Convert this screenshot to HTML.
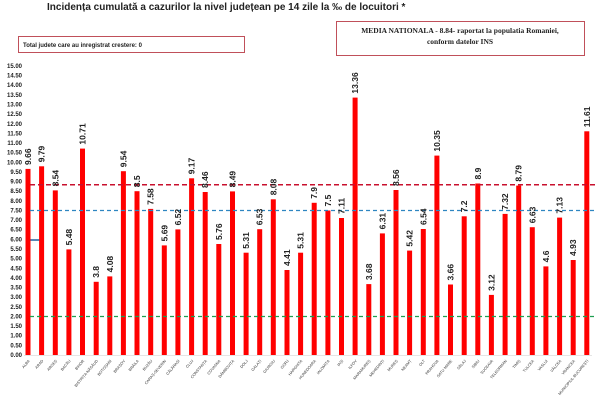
<!DOCTYPE html>
<html><head><meta charset="utf-8"><style>
html,body{margin:0;padding:0;background:#fff;width:600px;height:400px;overflow:hidden}
svg{display:block}
.yt{font:bold 6px "Liberation Sans",sans-serif;fill:#222}
.v{font:bold 8.5px "Liberation Sans",sans-serif;fill:#222}
.c{font:3.8px "Liberation Sans",sans-serif;fill:#333}
</style></head><body>
<svg width="600" height="400" viewBox="0 0 600 400" xmlns="http://www.w3.org/2000/svg">
<text x="47" y="10" style="font:bold 10px 'Liberation Sans',sans-serif;fill:#222">Incidența cumulată a cazurilor la nivel județean pe 14 zile la ‰ de locuitori *</text>
<rect x="18.5" y="36.5" width="226" height="16" fill="#fff" stroke="#c0505a" stroke-width="1"/>
<text x="23" y="47" style="font:bold 6px 'Liberation Sans',sans-serif;fill:#222">Total judete care au inregistrat crestere: 0</text>
<rect x="336.5" y="21.5" width="248" height="34" fill="#fff" stroke="#c0505a" stroke-width="1"/>
<text x="460" y="33" text-anchor="middle" style="font:bold 7.5px 'Liberation Serif',serif;fill:#222">MEDIA NATIONALA - 8.84-  raportat la populatia  Romaniei,</text>
<text x="460" y="44" text-anchor="middle" style="font:bold 7.5px 'Liberation Serif',serif;fill:#222">conform datelor INS</text>
<g class="yt" text-anchor="end">
<text x="22" y="357">0.00</text><text x="22" y="347.4">0.50</text><text x="22" y="337.7">1.00</text><text x="22" y="328.1">1.50</text><text x="22" y="318.5">2.00</text><text x="22" y="308.8">2.50</text><text x="22" y="299.2">3.00</text><text x="22" y="289.6">3.50</text><text x="22" y="279.9">4.00</text><text x="22" y="270.3">4.50</text><text x="22" y="260.7">5.00</text><text x="22" y="251">5.50</text><text x="22" y="241.4">6.00</text><text x="22" y="231.7">6.50</text><text x="22" y="222.1">7.00</text><text x="22" y="212.5">7.50</text><text x="22" y="202.8">8.00</text><text x="22" y="193.2">8.50</text><text x="22" y="183.6">9.00</text><text x="22" y="173.9">9.50</text><text x="22" y="164.3">10.00</text><text x="22" y="154.7">10.50</text><text x="22" y="145">11.00</text><text x="22" y="135.4">11.50</text><text x="22" y="125.8">12.00</text><text x="22" y="116.1">12.50</text><text x="22" y="106.5">13.00</text><text x="22" y="96.9">13.50</text><text x="22" y="87.2">14.00</text><text x="22" y="77.6">14.50</text><text x="22" y="68">15.00</text>
</g>
<line x1="30" y1="240" x2="42" y2="240" stroke="#1f5f9f" stroke-width="1.5"/>
<g fill="#f00">
<rect x="25.5" y="168.9" width="5" height="186.1"/><rect x="39.1" y="166.3" width="5" height="188.7"/><rect x="52.8" y="190.4" width="5" height="164.6"/><rect x="66.4" y="249.4" width="5" height="105.6"/><rect x="80" y="148.6" width="5" height="206.4"/><rect x="93.7" y="281.8" width="5" height="73.2"/><rect x="107.3" y="276.4" width="5" height="78.6"/><rect x="120.9" y="171.2" width="5" height="183.8"/><rect x="134.5" y="191.2" width="5" height="163.8"/><rect x="148.2" y="208.9" width="5" height="146.1"/><rect x="161.8" y="245.4" width="5" height="109.6"/><rect x="175.4" y="229.4" width="5" height="125.6"/><rect x="189.1" y="178.3" width="5" height="176.7"/><rect x="202.7" y="192" width="5" height="163"/><rect x="216.3" y="244" width="5" height="111"/><rect x="230" y="191.4" width="5" height="163.6"/><rect x="243.6" y="252.7" width="5" height="102.3"/><rect x="257.2" y="229.2" width="5" height="125.8"/><rect x="270.8" y="199.3" width="5" height="155.7"/><rect x="284.5" y="270" width="5" height="85"/><rect x="298.1" y="252.7" width="5" height="102.3"/><rect x="311.7" y="202.8" width="5" height="152.2"/><rect x="325.4" y="210.5" width="5" height="144.5"/><rect x="339" y="218" width="5" height="137"/><rect x="352.6" y="97.6" width="5" height="257.4"/><rect x="366.3" y="284.1" width="5" height="70.9"/><rect x="379.9" y="233.4" width="5" height="121.6"/><rect x="393.5" y="190" width="5" height="165"/><rect x="407.1" y="250.6" width="5" height="104.4"/><rect x="420.8" y="229" width="5" height="126"/><rect x="434.4" y="155.6" width="5" height="199.4"/><rect x="448" y="284.5" width="5" height="70.5"/><rect x="461.7" y="216.3" width="5" height="138.7"/><rect x="475.3" y="183.5" width="5" height="171.5"/><rect x="488.9" y="294.9" width="5" height="60.1"/><rect x="502.6" y="213.9" width="5" height="141.1"/><rect x="516.2" y="185.6" width="5" height="169.4"/><rect x="529.8" y="227.2" width="5" height="127.8"/><rect x="543.4" y="266.4" width="5" height="88.6"/><rect x="557.1" y="217.6" width="5" height="137.4"/><rect x="570.7" y="260" width="5" height="95"/><rect x="584.3" y="131.3" width="5" height="223.7"/>
</g>
<line x1="24" y1="355.5" x2="592" y2="355.5" stroke="#ddd" stroke-width="0.7"/>
<line x1="30" y1="184.7" x2="596" y2="184.7" stroke="#c8102e" stroke-width="1.5" stroke-dasharray="5,3"/>
<line x1="30" y1="210.5" x2="596" y2="210.5" stroke="#2e86c1" stroke-width="1.2" stroke-dasharray="4,3"/>
<line x1="30" y1="316.5" x2="596" y2="316.5" stroke="#1e9e50" stroke-width="1.2" stroke-dasharray="4,3"/>
<g class="v">
<text transform="translate(31,165) rotate(-90)">9.66</text><text transform="translate(44.6,162.3) rotate(-90)">9.79</text><text transform="translate(58.3,186.4) rotate(-90)">8.54</text><text transform="translate(71.9,245.4) rotate(-90)">5.48</text><text transform="translate(85.5,144.6) rotate(-90)">10.71</text><text transform="translate(99.2,277.8) rotate(-90)">3.8</text><text transform="translate(112.8,272.4) rotate(-90)">4.08</text><text transform="translate(126.4,167.2) rotate(-90)">9.54</text><text transform="translate(140,187.2) rotate(-90)">8.5</text><text transform="translate(153.7,204.9) rotate(-90)">7.58</text><text transform="translate(167.3,241.4) rotate(-90)">5.69</text><text transform="translate(180.9,225.4) rotate(-90)">6.52</text><text transform="translate(194.6,174.3) rotate(-90)">9.17</text><text transform="translate(208.2,188) rotate(-90)">8.46</text><text transform="translate(221.8,240) rotate(-90)">5.76</text><text transform="translate(235.5,187.4) rotate(-90)">8.49</text><text transform="translate(249.1,248.7) rotate(-90)">5.31</text><text transform="translate(262.7,225.2) rotate(-90)">6.53</text><text transform="translate(276.3,195.3) rotate(-90)">8.08</text><text transform="translate(290,266) rotate(-90)">4.41</text><text transform="translate(303.6,248.7) rotate(-90)">5.31</text><text transform="translate(317.2,198.8) rotate(-90)">7.9</text><text transform="translate(330.9,206.5) rotate(-90)">7.5</text><text transform="translate(344.5,214) rotate(-90)">7.11</text><text transform="translate(358.1,93.6) rotate(-90)">13.36</text><text transform="translate(371.8,280.1) rotate(-90)">3.68</text><text transform="translate(385.4,229.4) rotate(-90)">6.31</text><text transform="translate(399,186) rotate(-90)">8.56</text><text transform="translate(412.6,246.6) rotate(-90)">5.42</text><text transform="translate(426.3,225) rotate(-90)">6.54</text><text transform="translate(439.9,151.6) rotate(-90)">10.35</text><text transform="translate(453.5,280.5) rotate(-90)">3.66</text><text transform="translate(467.2,212.3) rotate(-90)">7.2</text><text transform="translate(480.8,179.5) rotate(-90)">8.9</text><text transform="translate(494.4,290.9) rotate(-90)">3.12</text><text transform="translate(508.1,209.9) rotate(-90)">7.32</text><text transform="translate(521.7,181.6) rotate(-90)">8.79</text><text transform="translate(535.3,223.2) rotate(-90)">6.63</text><text transform="translate(548.9,262.4) rotate(-90)">4.6</text><text transform="translate(562.6,213.6) rotate(-90)">7.13</text><text transform="translate(576.2,256) rotate(-90)">4.93</text><text transform="translate(589.8,127.3) rotate(-90)">11.61</text>
</g>
<g class="c" text-anchor="end">
<text transform="translate(30,361) rotate(-50)">ALBA</text><text transform="translate(43.6,361) rotate(-50)">ARAD</text><text transform="translate(57.3,361) rotate(-50)">ARGEȘ</text><text transform="translate(70.9,361) rotate(-50)">BACĂU</text><text transform="translate(84.5,361) rotate(-50)">BIHOR</text><text transform="translate(98.2,361) rotate(-50)">BISTRIȚA-NĂSĂUD</text><text transform="translate(111.8,361) rotate(-50)">BOTOȘANI</text><text transform="translate(125.4,361) rotate(-50)">BRAȘOV</text><text transform="translate(139,361) rotate(-50)">BRĂILA</text><text transform="translate(152.7,361) rotate(-50)">BUZĂU</text><text transform="translate(166.3,361) rotate(-50)">CARAȘ-SEVERIN</text><text transform="translate(179.9,361) rotate(-50)">CĂLĂRAȘI</text><text transform="translate(193.6,361) rotate(-50)">CLUJ</text><text transform="translate(207.2,361) rotate(-50)">CONSTANȚA</text><text transform="translate(220.8,361) rotate(-50)">COVASNA</text><text transform="translate(234.5,361) rotate(-50)">DÂMBOVIȚA</text><text transform="translate(248.1,361) rotate(-50)">DOLJ</text><text transform="translate(261.7,361) rotate(-50)">GALAȚI</text><text transform="translate(275.3,361) rotate(-50)">GIURGIU</text><text transform="translate(289,361) rotate(-50)">GORJ</text><text transform="translate(302.6,361) rotate(-50)">HARGHITA</text><text transform="translate(316.2,361) rotate(-50)">HUNEDOARA</text><text transform="translate(329.9,361) rotate(-50)">IALOMIȚA</text><text transform="translate(343.5,361) rotate(-50)">IAȘI</text><text transform="translate(357.1,361) rotate(-50)">ILFOV</text><text transform="translate(370.8,361) rotate(-50)">MARAMUREȘ</text><text transform="translate(384.4,361) rotate(-50)">MEHEDINȚI</text><text transform="translate(398,361) rotate(-50)">MUREȘ</text><text transform="translate(411.6,361) rotate(-50)">NEAMȚ</text><text transform="translate(425.3,361) rotate(-50)">OLT</text><text transform="translate(438.9,361) rotate(-50)">PRAHOVA</text><text transform="translate(452.5,361) rotate(-50)">SATU MARE</text><text transform="translate(466.2,361) rotate(-50)">SĂLAJ</text><text transform="translate(479.8,361) rotate(-50)">SIBIU</text><text transform="translate(493.4,361) rotate(-50)">SUCEAVA</text><text transform="translate(507.1,361) rotate(-50)">TELEORMAN</text><text transform="translate(520.7,361) rotate(-50)">TIMIȘ</text><text transform="translate(534.3,361) rotate(-50)">TULCEA</text><text transform="translate(547.9,361) rotate(-50)">VASLUI</text><text transform="translate(561.6,361) rotate(-50)">VÂLCEA</text><text transform="translate(575.2,361) rotate(-50)">VRANCEA</text><text transform="translate(588.8,361) rotate(-50)">MUNICIPIUL BUCUREȘTI</text>
</g>
</svg>
</body></html>
